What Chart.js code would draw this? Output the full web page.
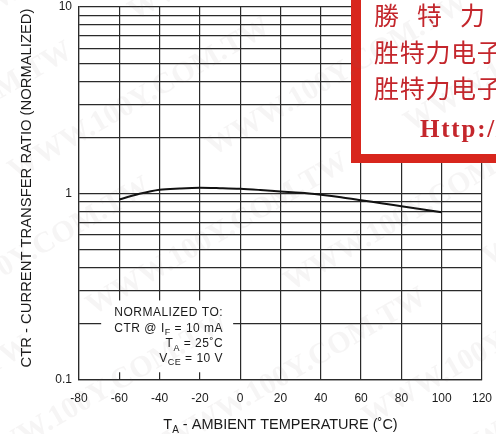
<!DOCTYPE html>
<html>
<head>
<meta charset="utf-8">
<script src="https://cdn.jsdelivr.net/npm/chart.js@4/dist/chart.umd.min.js"></script>
<style>
  html, body { margin: 0; padding: 0; background: #fff; }
  canvas { display: block; }
</style>
</head>
<body>
<canvas id="chart" width="496" height="434"></canvas>
<script>
// Normalized CTR versus ambient temperature
const temperatures = [-60, -50, -40, -30, -20, -10, 0, 10, 20, 30, 40, 50, 60, 70, 80, 90, 100];
const ctrNormalized = [0.929, 0.996, 1.047, 1.064, 1.073, 1.068, 1.060, 1.044, 1.025, 1.009, 0.984, 0.955, 0.921, 0.887, 0.855, 0.824, 0.794];

const xTickValues = [-80, -60, -40, -20, 0, 20, 40, 60, 80, 100, 120];
const yGridValues = [0.1, 0.2, 0.3, 0.4, 0.5, 0.6, 0.7, 0.8, 0.9, 1, 2, 3, 4, 5, 6, 7, 8, 9, 10];
const yLabelValues = [0.1, 1, 10];
const yLabelTexts = ['0.1', '1', '10'];

const FONT = '"Liberation Sans", Arial, Helvetica, sans-serif';
const INK = '#1a1a1a';
const GRID = '#2a2a2a';

// Draw a run of [text, isSubscript] pieces; align 'left' | 'center' | 'right'
function drawRich(ctx, pieces, x, y, size, align, spacing) {
  ctx.letterSpacing = (spacing || 0) + 'px';
  const subSize = Math.round(size * 0.72);
  const widths = pieces.map(([t, sub]) => {
    ctx.font = (sub ? subSize : size) + 'px ' + FONT;
    return ctx.measureText(t).width;
  });
  const total = widths.reduce((a, b) => a + b, 0);
  let cx = align === 'right' ? x - total : align === 'center' ? x - total / 2 : x;
  ctx.textAlign = 'left';
  ctx.textBaseline = 'alphabetic';
  pieces.forEach(([t, sub], i) => {
    ctx.font = (sub ? subSize : size) + 'px ' + FONT;
    ctx.fillText(t, cx, sub ? y + size * 0.28 : y);
    cx += widths[i];
  });
  ctx.letterSpacing = '0px';
}

const conditionsLines = [
  [['NORMALIZED TO:', false]],
  [['CTR @ I', false], ['F', true], [' = 10 mA', false]],
  [['T', false], ['A', true], [' = 25˚C', false]],
  [['V', false], ['CE', true], [' = 10 V', false]]
];

// Note box with the normalization conditions, placed in data space
const conditionsBox = { x0: -69, x1: -3.5, yTop: 0.267, yBottom: 0.11, textRight: -8.5 };

const conditionsPlugin = {
  id: 'conditions',
  beforeDatasetsDraw(chart) {
    const { ctx, scales: { x, y } } = chart;
    const left = x.getPixelForValue(conditionsBox.x0);
    const right = x.getPixelForValue(conditionsBox.x1);
    const top = y.getPixelForValue(conditionsBox.yTop);
    const bottom = y.getPixelForValue(conditionsBox.yBottom);
    ctx.save();
    ctx.fillStyle = '#fff';
    ctx.fillRect(left, top, right - left, bottom - top);
    ctx.fillStyle = INK;
    const tx = x.getPixelForValue(conditionsBox.textRight);
    const baselines = [top + 15.5, top + 31.5, top + 47, top + 61.5];
    conditionsLines.forEach((line, i) => drawRich(ctx, line, tx, baselines[i], 12, 'right', 0.5));
    ctx.restore();
  }
};

const axisTitlesPlugin = {
  id: 'axisTitles',
  afterDraw(chart) {
    const { ctx, chartArea } = chart;
    ctx.save();
    ctx.fillStyle = INK;
    // x-axis title
    drawRich(ctx, [['T', false], ['A', true], [' - AMBIENT TEMPERATURE (˚C)', false]],
      (chartArea.left + chartArea.right) / 2, 429, 14.5, 'center');
    // y-axis title
    ctx.translate(31, 188);
    ctx.rotate(-Math.PI / 2);
    drawRich(ctx, [['CTR - CURRENT TRANSFER RATIO (NORMALIZED)', false]], 0, 0, 14.8, 'center');
    ctx.restore();
  }
};

// Distributor stamp in the top-right corner
const stampPlugin = {
  id: 'stamp',
  afterDraw(chart) {
    const { ctx } = chart;
    ctx.save();
    ctx.fillStyle = '#d8261d';
    ctx.fillRect(351, -10, 160, 173);
    ctx.fillStyle = '#fff';
    ctx.fillRect(361, -10, 150, 164);
    ctx.fillStyle = '#c4262c';
    ctx.textBaseline = 'middle';
    ctx.textAlign = 'left';
    ctx.font = '25px "Noto Sans CJK TC", "Noto Sans CJK SC", sans-serif';
    const row1 = '勝特力材料';
    [...row1].forEach((ch, i) => ctx.fillText(ch, 374 + i * 43, 15));
    ctx.font = '25px "Noto Sans CJK SC", sans-serif';
    const row2 = '胜特力电子(上海)';
    const row3 = '胜特力电子(深圳)';
    [...row2].forEach((ch, i) => ctx.fillText(ch, 374 + i * 25.7, 52));
    [...row3].forEach((ch, i) => ctx.fillText(ch, 374 + i * 25.7, 88));
    ctx.font = 'bold 25px "Liberation Serif", "Times New Roman", serif';
    ctx.textBaseline = 'alphabetic';
    const url = 'Http://www.100y.com.tw';
    let ux = 420;
    [...url].forEach(ch => { ctx.fillText(ch, ux, 137); ux += ctx.measureText(ch).width + 1.8; });
    ctx.restore();
  }
};

// Faint diagonal site watermark across the page
const watermarkPlugin = {
  id: 'watermark',
  afterDraw(chart) {
    const { ctx, width, height } = chart;
    ctx.save();
    ctx.fillStyle = 'rgba(120, 110, 110, 0.065)';
    ctx.font = 'bold 30px "Liberation Serif", "Times New Roman", serif';
    ctx.textBaseline = 'middle';
    const text = 'WWW.100Y.COM.TW';
    const w = ctx.measureText(text).width + 70;
    ctx.translate(width / 2, height / 2);
    ctx.rotate(-Math.PI / 6);
    for (let row = -6; row <= 6; row++) {
      for (let col = -3; col <= 3; col++) {
        ctx.fillText(text, col * w + (row % 2) * w / 2 - w / 2, row * 78);
      }
    }
    ctx.restore();
  }
};

new Chart(document.getElementById('chart'), {
  type: 'line',
  data: {
    datasets: [{
      data: temperatures.map((t, i) => ({ x: t, y: ctrNormalized[i] })),
      borderColor: '#111',
      borderWidth: 2,
      pointRadius: 0,
      fill: false,
      cubicInterpolationMode: 'monotone'
    }]
  },
  options: {
    responsive: false,
    animation: false,
    devicePixelRatio: 1,
    layout: { padding: { top: 7, right: 14, left: 0, bottom: 0 } },
    plugins: { legend: { display: false }, tooltip: { enabled: false } },
    scales: {
      x: {
        type: 'linear',
        min: -80,
        max: 120,
        afterBuildTicks(scale) { scale.ticks = xTickValues.map(v => ({ value: v })); },
        afterFit(scale) {
          scale.height = 54;
          scale.paddingLeft = 0;
          scale.paddingRight = 0;
        },
        grid: { color: GRID, lineWidth: 1.2, drawTicks: false },
        border: { color: GRID, width: 1.2 },
        ticks: {
          color: INK,
          font: { family: FONT, size: 12 },
          padding: 11,
          autoSkip: false,
          maxRotation: 0
        }
      },
      y: {
        type: 'logarithmic',
        min: 0.1,
        max: 10,
        afterBuildTicks(scale) {
          scale.ticks = yGridValues.map(v => ({ value: v, major: yLabelValues.includes(v) }));
        },
        afterFit(scale) {
          scale.width = 79;
          scale.paddingTop = 0;
          scale.paddingBottom = 0;
        },
        grid: { color: GRID, lineWidth: 1.2, drawTicks: false },
        border: { color: GRID, width: 1.2 },
        ticks: {
          color: INK,
          font: { family: FONT, size: 12 },
          padding: 7,
          autoSkip: false,
          callback(value) {
            const k = yLabelValues.findIndex(v => Math.abs(v - value) < 1e-9);
            return k >= 0 ? yLabelTexts[k] : '';
          }
        }
      }
    }
  },
  plugins: [conditionsPlugin, axisTitlesPlugin, stampPlugin, watermarkPlugin]
});
</script>
</body>
</html>
